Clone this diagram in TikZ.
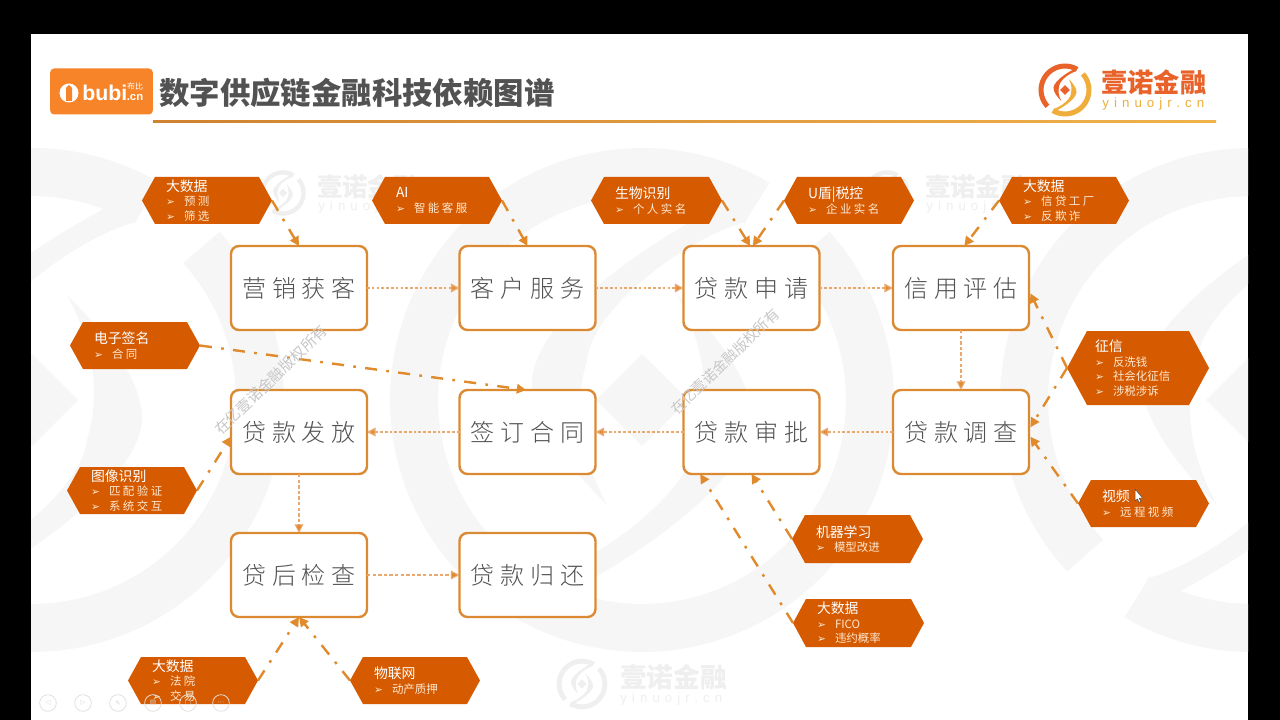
\documentclass[tikz,border=0pt]{standalone}
\usepackage{fontspec}
\usetikzlibrary{arrows.meta,calc}
\setmainfont{Noto Sans CJK SC}
\newfontfamily\cjk{Noto Sans CJK SC}
\newfontfamily\boxf[LetterSpace=24]{Noto Sans CJK SC Light}
\newfontfamily\wide[LetterSpace=22]{Noto Sans CJK SC}
\newfontfamily\symf{DejaVu Sans}
\newfontfamily\latinsp[LetterSpace=38]{Liberation Sans}
\newfontfamily\bubif{Liberation Sans}
\definecolor{hexfillc}{HTML}{D55A00}
\definecolor{itemc}{HTML}{FFE9D2}
\definecolor{boxline}{HTML}{DC8A32}
\definecolor{techline}{HTML}{E08A2B}
\definecolor{flowline}{HTML}{EAA86C}
\definecolor{wmc}{HTML}{F6F6F7}
\definecolor{wmtext}{HTML}{EFEFF0}
\definecolor{bubiorange}{HTML}{F8842A}
\definecolor{ruleleft}{HTML}{CF822F}
\definecolor{ruleright}{HTML}{F0B24B}
\definecolor{logored}{HTML}{E8622A}
\definecolor{logoyel}{HTML}{EFAE3C}
\tikzset{
  box/.style={draw=boxline,fill=white,line width=1.8pt,rounded corners=6pt,minimum width=102pt,minimum height=63pt,inner sep=0pt,outer sep=0pt,text=black!68,font=\boxf\fontsize{18}{20}\selectfont},
  hexlabel/.style={inner sep=0pt,outer sep=0pt,align=left,text=white,font=\cjk\fontsize{8.6}{10.9}\selectfont},
  flow/.style={draw=flowline,line width=1.1pt,dash pattern=on 2pt off 1.6pt,-{Triangle[length=6.5pt,width=6.5pt,fill=techline]}},
  flowthin/.style={draw=flowline,line width=.85pt,dash pattern=on 2.6pt off 1.6pt,-{Triangle[length=6.5pt,width=6.5pt,fill=techline]}},
  tech/.style={draw=techline,line width=1.8pt,dash pattern=on 9pt off 7pt on 2pt off 7pt,-{Triangle[length=7pt,width=7pt]}},
  tool/.style={circle,draw=black!12,line width=.6pt,minimum size=12.5pt,inner sep=0pt,text=black!15,font=\symf\fontsize{5}{6}\selectfont},
}
\newcommand\hexn[7]{%
  \pgfmathsetmacro\hxa{#2+#6}\pgfmathsetmacro\hxb{#4-#6}%
  \pgfmathsetmacro\hym{(#3+#5)/2}\pgfmathsetmacro\hxm{(#2+#4)/2}%
  \pgfmathsetmacro\hw{(#4-#2)*0.75}\pgfmathsetmacro\hh{(#5-#3)*0.75}%
  \fill[hexfillc] (#2,\hym)--(\hxa,#3)--(\hxb,#3)--(#4,\hym)--(\hxb,#5)--(\hxa,#5)--cycle;
  \node[hexlabel,text width=\hw pt,minimum height=\hh pt] (#1) at (\hxm,\hym) {#7};}
\newcommand\hxt[1]{\hspace*{18pt}{\fontsize{10.4}{10.9}\selectfont #1}}
\newcommand\hxi[1]{\hspace*{18pt}\makebox[13.5pt][l]{\textcolor{itemc}{\symf\fontsize{8}{8}\selectfont ➢}}\textcolor{itemc}{\wide #1}}
\newcommand\hxj[1]{\hspace*{18pt}\makebox[13.5pt][l]{\textcolor{itemc}{\symf\fontsize{8}{8}\selectfont ➢}}\textcolor{itemc}{#1}}
% logo: centre x, y, scale, colours of the two arms
\newcommand\logoshape[5]{%
  \pgfmathsetmacro\lsu{#3*0.75}\pgfmathsetmacro\llw{48*#3*0.75}%
  \begin{scope}[shift={(#1,#2)},x=\lsu pt,y=-\lsu pt,line width=\llw pt]
    \draw[#4] plot[domain=300:137,samples=60] ({228*cos(\x)},{228*sin(\x)});
    \fill[#4] (128,-218) .. controls (60,-190) and (-100,-100) .. (-110,-22) .. controls (-112,20) and (-70,70) .. (-35,105) .. controls (-60,60) and (-70,10) .. (-55,-40) .. controls (-50,-90) and (40,-160) .. (103,-178) -- cycle;
    \draw[#5] plot[domain=120:-42,samples=60] ({228*cos(\x)},{228*sin(\x)});
    \fill[#5] (-128,218) .. controls (-60,190) and (100,100) .. (110,22) .. controls (112,-20) and (70,-70) .. (35,-105) .. controls (60,-60) and (70,-10) .. (55,40) .. controls (50,90) and (-40,160) .. (-103,178) -- cycle;
    \fill[#4] (0,-46)--(46,0)--(0,46)--(-46,0)--cycle;
  \end{scope}}
\begin{document}
\begin{tikzpicture}[x=0.75pt,y=-0.75pt]
\useasboundingbox (0,0) rectangle (1280,720);
\fill[black] (0,0) rectangle (1280,720);
\fill[white] (31,34) rectangle (1248,720);
\begin{scope}
  \clip (31,140) rectangle (1248,720);
  \logoshape{32}{400}{1}{wmc}{wmc}
  \logoshape{642}{400}{1}{wmc}{wmc}
  \logoshape{1252}{400}{1}{wmc}{wmc}
\end{scope}
% faint logos
\logoshape{283}{193}{0.09}{wmtext}{wmtext}
\logoshape{887}{193}{0.09}{wmtext}{wmtext}
\logoshape{582}{684}{0.1}{wmtext}{wmtext}
\node[inner sep=0pt,anchor=west,text=wmtext] (w1) at (317,187) {\cjk\bfseries\fontsize{19}{20}\selectfont 壹诺金融};
\node[inner sep=0pt,anchor=west,text=wmtext] (w1b) at (318,207) {\latinsp\fontsize{10}{11}\selectfont yinuojr.cn};
\node[inner sep=0pt,anchor=west,text=wmtext] (w2) at (925,187) {\cjk\bfseries\fontsize{19}{20}\selectfont 壹诺金融};
\node[inner sep=0pt,anchor=west,text=wmtext] (w2b) at (926,207) {\latinsp\fontsize{10}{11}\selectfont yinuojr.cn};
\node[inner sep=0pt,anchor=west,text=wmtext] (w3) at (620,677) {\cjk\bfseries\fontsize{20}{21}\selectfont 壹诺金融};
\node[inner sep=0pt,anchor=west,text=wmtext] (w3b) at (620,699) {\latinsp\fontsize{10}{11}\selectfont yinuojr.cn};
% header
\node[fill=bubiorange,rounded corners=3pt,minimum width=77pt,minimum height=34.5pt,inner sep=0pt] (bubi) at (101.5,91.5) {};
\fill[white] (69,93) circle[radius=9.5];
\fill[bubiorange] (69,85) -- (72,88) -- (72,101) -- (66,101) -- (66,88) -- cycle;
\node[inner sep=0pt,anchor=west,text=white] (bubit) at (82,93) {\bubif\bfseries\fontsize{16}{17}\selectfont bubi};
\node[inner sep=0pt,text=white] (bubic) at (135,86) {\cjk\fontsize{6}{6.5}\selectfont 布比};
\node[inner sep=0pt,text=white] (bubid) at (135,98) {\bubif\bfseries\fontsize{8.5}{9}\selectfont .cn};
\node[inner sep=0pt,anchor=west,text=black!68] (title) at (159,93) {\cjk\bfseries\fontsize{22.8}{25}\selectfont 数字供应链金融科技依赖图谱};
\shade[left color=ruleleft,right color=ruleright] (153,121) rectangle (1216,123);
\logoshape{1065}{90}{0.105}{logored}{logoyel}
\node[inner sep=0pt,anchor=west,text=logored] (yn) at (1101,82) {\cjk\bfseries\fontsize{19.7}{21}\selectfont 壹诺金融};
\node[inner sep=0pt,anchor=west,text=logoyel] (yn2) at (1102,104) {\latinsp\fontsize{10}{11}\selectfont yinuojr.cn};
% boxes
\node[box] (b1) at (299,288) {营销获客};
\node[box] (b2) at (527.5,288) {客户服务};
\node[box] (b3) at (751.5,288) {贷款申请};
\node[box] (b4) at (961,288) {信用评估};
\node[box] (b5) at (961,432) {贷款调查};
\node[box] (b6) at (751.5,432) {贷款审批};
\node[box] (b7) at (527.5,432) {签订合同};
\node[box] (b8) at (299,432) {贷款发放};
\node[box] (b9) at (299,575) {贷后检查};
\node[box] (b10) at (527.5,575) {贷款归还};
% hexagons
\hexn{h1}{142}{177}{272}{224}{13}{\hxt{大数据}\\\hxi{预测}\\\hxi{筛选}}
\hexn{h2}{372}{177}{502}{224}{13}{\hxt{AI}\\\hxi{智能客服}}
\hexn{h3}{591}{177}{722}{224}{13}{\hxt{生物识别}\\\hxi{个人实名}}
\hexn{h4}{784}{177}{914}{224}{13}{\hxt{U盾|税控}\\\hxi{企业实名}}
\hexn{h5}{999}{177}{1129}{224}{13}{\hxt{大数据}\\\hxi{信贷工厂}\\\hxi{反欺诈}}
\hexn{h6}{70}{322}{200}{369}{13}{\hxt{电子签名}\\\hxi{合同}}
\hexn{h7}{67}{467}{197}{514}{13}{\hxt{图像识别}\\\hxi{匹配验证}\\\hxi{系统交互}}
\hexn{h8}{128}{657}{258}{704}{13}{\hxt{大数据}\\\hxi{法院}\\\hxi{交易}}
\hexn{h9}{350}{657}{480}{704}{13}{\hxt{物联网}\\\hxj{动产质押}}
\hexn{h10}{792}{515}{923}{563}{13}{\hxt{机器学习}\\\hxj{模型改进}}
\hexn{h11}{793}{599}{924}{647}{13}{\hxt{大数据}\\\hxj{FICO}\\\hxj{违约概率}}
\hexn{h12}{1067}{331}{1209}{405}{20}{\hspace*{3pt}\hxt{征信}\\\hspace*{3pt}\hxj{反洗钱}\\\hspace*{3pt}\hxj{社会化征信}\\\hspace*{3pt}\hxj{涉税涉诉}}
\hexn{h13}{1078}{480}{1209}{527}{13}{\hxt{视频}\\\hxi{远程视频}}
% flow connectors
\draw[flow] (b1) -- (b2);
\draw[flow] (b2) -- (b3);
\draw[flow] (b3) -- (b4);
\draw[flowthin] (b4) -- (b5);
\draw[flow] (b5) -- (b6);
\draw[flow] (b6) -- (b7);
\draw[flow] (b7) -- (b8);
\draw[flowthin] (b8) -- (b9);
\draw[flowthin] (b9) -- (b10);
% technology connectors
\draw[tech] (h1.east) -- (b1.north);
\draw[tech] (h2.east) -- (b2.north);
\draw[tech] (h3.east) -- ([xshift=-1pt]b3.north);
\draw[tech] (h4.west) -- ([xshift=1pt]b3.north);
\draw[tech] (h5.west) -- ([xshift=2.5pt]b4.north);
\draw[tech] (h6.east) -- ([xshift=-1pt]b7.north);
\draw[tech] (h7.east) -- ([yshift=-3.5pt]b8.west);
\draw[tech] (h8.east) -- (b9.south);
\draw[tech] (h9.west) -- (b9.south);
\draw[tech] (h10.west) -- (b6.south);
\draw[tech] (h11.west) -- ([xshift=-38.5pt]b6.south);
\draw[tech] (h12.west) -- ([xshift=1pt,yshift=-4pt]b4.east);
\draw[tech] (h12.west) -- ([xshift=1pt,yshift=3.5pt]b5.east);
\draw[tech] (h13.west) -- ([xshift=1pt,yshift=-3.5pt]b5.east);
% slide-show controls
\node[tool] (t1) at (48,703) {◁};
\node[tool] (t2) at (83,703) {▷};
\node[tool] (t3) at (118,703) {✎};
\node[tool] (t4) at (153,703) {▤};
\node[tool] (t5) at (188,703) {▢};
\node[tool] (t6) at (221,703) {⋯};
% copyright marks
\node[rotate=44,inner sep=0pt,text=black!22] (c1) at (271,380) {\cjk\fontsize{11.2}{12}\selectfont 在亿壹诺金融版权所有};
\node[rotate=44,inner sep=0pt,text=black!22] (c2) at (725,362) {\cjk\fontsize{10.8}{12}\selectfont 在亿壹诺金融版权所有};
% pointer
\draw[black!70,fill=white,line width=.4pt,line join=round] (1135,489) -- (1135,501) -- (1137.5,499) -- (1139,502.5) -- (1140.8,501.7) -- (1139.3,498.3) -- (1142.5,498) -- cycle;
\end{tikzpicture}
\end{document}
